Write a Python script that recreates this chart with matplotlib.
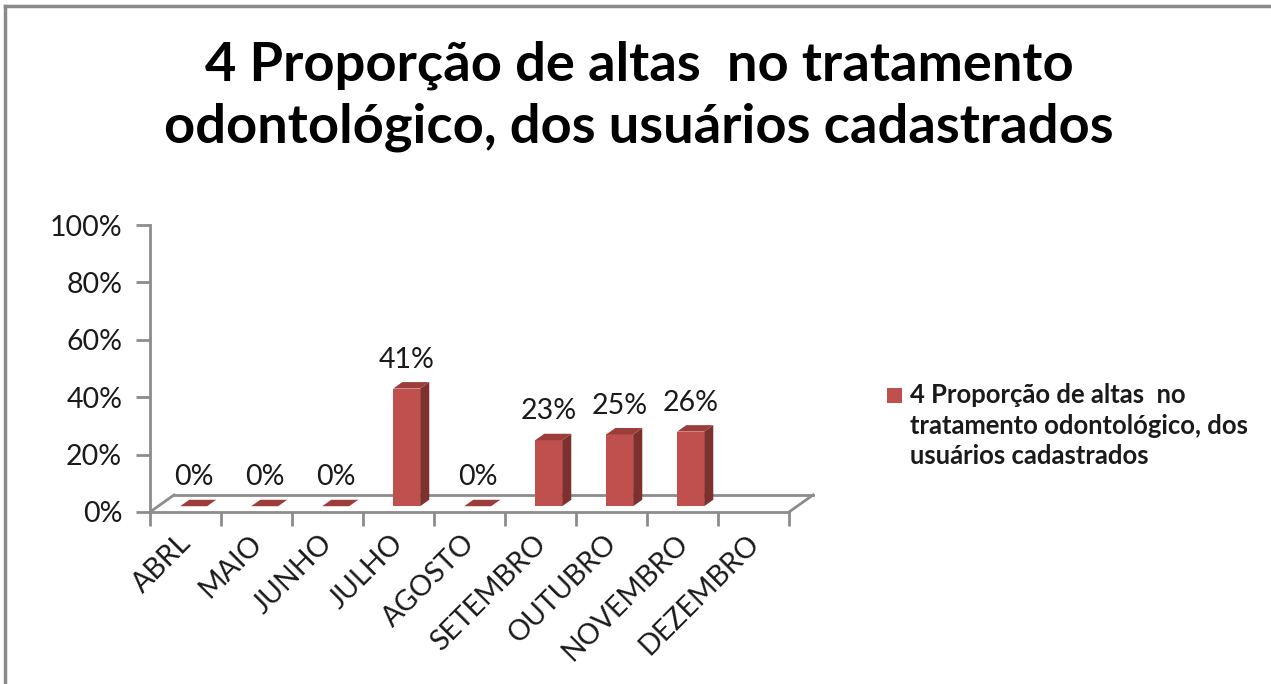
import matplotlib
matplotlib.use('Agg')
import matplotlib.pyplot as plt
from matplotlib.patches import Polygon, Rectangle
from matplotlib.lines import Line2D
from matplotlib.ticker import FixedLocator, NullFormatter, FixedFormatter
from matplotlib.transforms import ScaledTranslation

# ---------------- data ----------------
months = ['ABRL', 'MAIO', 'JUNHO', 'JULHO', 'AGOSTO', 'SETEMBRO', 'OUTUBRO', 'NOVEMBRO', 'DEZEMBRO']
values = [0.00, 0.00, 0.00, 0.41, 0.00, 0.23, 0.25, 0.26, None]
value_labels = ['0%', '0%', '0%', '41%', '0%', '23%', '25%', '26%', None]
y_ticks = [0.0, 0.2, 0.4, 0.6, 0.8, 1.0]
y_tick_labels = ['0%', '20%', '40%', '60%', '80%', '100%']
series_name = '4 Proporção de altas  no\ntratamento odontológico, dos\nusuários cadastrados'
title_lines = ['4 Proporção de altas  no tratamento',
               'odontológico, dos usuários cadastrados']

# ---------------- style ----------------
FONT = 'Lato'
plt.rcParams['font.family'] = [FONT, 'DejaVu Sans']
FRONT = '#C0504D'
SIDE = '#7E302E'
TOP = '#9C3D3B'
GRAY = '#8C8C8C'
TXT = '#1A1A1A'
FS = 20.5

W, H = 1271, 684
fig = plt.figure(figsize=(W / 100, H / 100), dpi=100)
fig.patch.set_facecolor('white')

# plot area (front plane)
L, R, B, T = 150, 789, 512, 225
ax = fig.add_axes([L / W, 1 - B / H, (R - L) / W, (B - T) / H])
ax.set_facecolor('none')
ax.set_xlim(-0.5, len(months) - 0.5)
ax.set_ylim(0, 1)

px_x = (R - L) / len(months)   # pixels per category
px_y = (B - T)                 # pixels per unit value

# depth of the floor (3D look)
DX, DY = 24 / px_x, 17 / px_y
f0, f1 = 0.34, 0.72            # bar front/back depth fractions
bw = 0.38                      # bar width (categories)

for s in ['top', 'right']:
    ax.spines[s].set_visible(False)
for s in ['left', 'bottom']:
    ax.spines[s].set_color(GRAY)
    ax.spines[s].set_linewidth(2)

# y axis
ax.yaxis.set_major_locator(FixedLocator(y_ticks))
ax.yaxis.set_major_formatter(FixedFormatter(y_tick_labels))
ax.tick_params(axis='y', length=10, width=2, color=GRAY, labelsize=FS,
               labelcolor=TXT, pad=10)

# x axis: boundary ticks (major), labels at centres (minor)
n = len(months)
ax.xaxis.set_major_locator(FixedLocator([i - 0.5 for i in range(n + 1)]))
ax.xaxis.set_major_formatter(NullFormatter())
ax.xaxis.set_minor_locator(FixedLocator(list(range(n))))
ax.xaxis.set_minor_formatter(FixedFormatter(months))
ax.tick_params(axis='x', which='major', length=10, width=2, color=GRAY)
ax.tick_params(axis='x', which='minor', length=0, labelsize=FS,
               labelcolor=TXT, pad=13)
shift = ScaledTranslation(-8 / 100, 0, fig.dpi_scale_trans)
for lab in ax.get_xticklabels(minor=True):
    lab.set_rotation(45)
    lab.set_ha('right')
    lab.set_va('top')
    lab.set_rotation_mode('anchor')
    lab.set_transform(lab.get_transform() + shift)

# floor outline
x0, x1 = -0.5, n - 0.5
floor = [((x0, 0), (x0 + DX, DY)), ((x0 + DX, DY), (x1 + DX, DY)),
         ((x1, 0), (x1 + DX, DY))]
for (a, b) in floor:
    ax.add_line(Line2D([a[0], b[0]], [a[1], b[1]], color=GRAY, lw=2,
                       clip_on=False, zorder=1))

# bars
for i, v in enumerate(values):
    if v is None:
        continue
    bx0 = i - bw / 2 + f0 * DX
    bx1 = bx0 + bw
    by0 = f0 * DY
    ddx, ddy = (f1 - f0) * DX, (f1 - f0) * DY
    top = by0 + v
    if v > 0:
        ax.bar(bx0 + bw / 2, v, bottom=by0, width=bw, color=FRONT,
               edgecolor='none', zorder=3, clip_on=False)
        ax.add_patch(Polygon([(bx1, by0), (bx1, top), (bx1 + ddx, top + ddy),
                              (bx1 + ddx, by0 + ddy)], closed=True,
                             facecolor=SIDE, edgecolor='none', zorder=3,
                             clip_on=False))
    ax.add_patch(Polygon([(bx0, top), (bx1, top), (bx1 + ddx, top + ddy),
                          (bx0 + ddx, top + ddy)], closed=True,
                         facecolor=TOP, edgecolor='none', zorder=3,
                         clip_on=False))
    ax.annotate(value_labels[i], (bx0 + bw / 2, top), xytext=(0, 15),
                textcoords='offset points', ha='center', va='baseline',
                fontsize=FS, color=TXT, zorder=4, annotation_clip=False)

# title
fig.canvas.draw()
r = fig.canvas.get_renderer()
t2 = fig.text(0.5, 0, title_lines[1], fontsize=30, fontweight='bold')
w = t2.get_window_extent(r).width
t2.remove()
tsize = 30 * 947 / w
fig.text(639 / W, 1 - 81 / H, title_lines[0], fontsize=tsize, fontweight='bold',
         ha='center', va='baseline', color='black')
fig.text(639 / W, 1 - 142 / H, title_lines[1], fontsize=tsize, fontweight='bold',
         ha='center', va='baseline', color='black')

# legend
lt = fig.text(0, 0, series_name.split('\n')[0], fontsize=14, fontweight='bold')
w = lt.get_window_extent(r).width
lt.remove()
lsize = 14 * 278 / w
fig.patches.append(Rectangle((887 / W, 1 - 403 / H), 15 / W, 15 / H,
                             transform=fig.transFigure, facecolor=FRONT,
                             edgecolor='none'))
for k, line in enumerate(series_name.split('\n')):
    fig.text(910 / W, 1 - (403 + 30.5 * k) / H, line, fontsize=lsize,
             fontweight='bold', ha='left', va='baseline', color=TXT)

# chart border (top and left visible)
fig.add_artist(Line2D([5 / W, 5 / W], [0, 1 - 5.5 / H], transform=fig.transFigure,
                      color='#8A8A8A', lw=2.5))
fig.add_artist(Line2D([5 / W, 1], [1 - 5.5 / H, 1 - 5.5 / H], transform=fig.transFigure,
                      color='#8A8A8A', lw=2.5))

fig.savefig('out.png', dpi=100, facecolor='white')
